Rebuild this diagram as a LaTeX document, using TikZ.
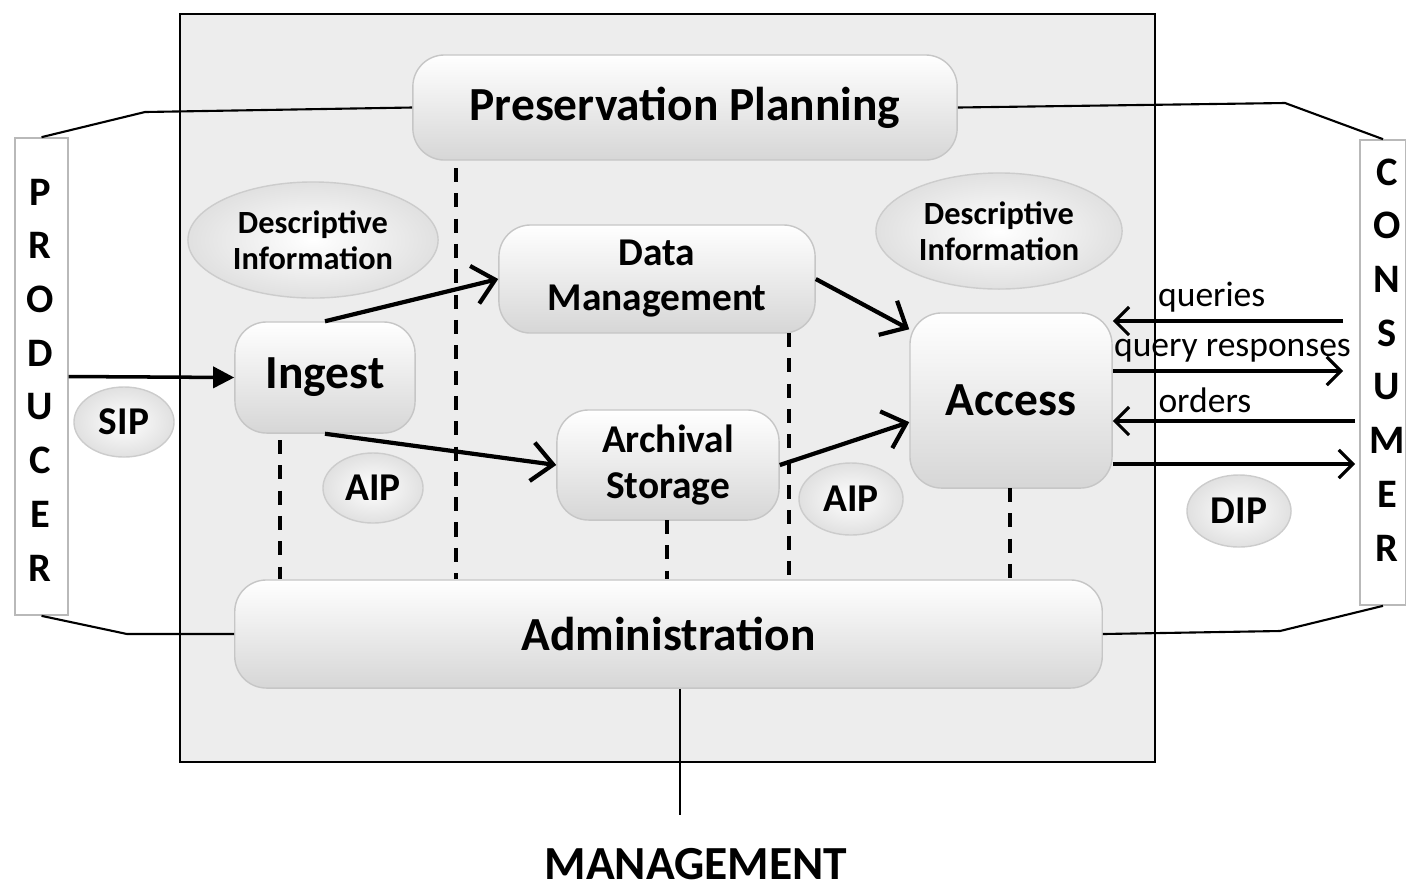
\documentclass[tikz,border=0pt]{standalone}
\usepackage{fontspec}
\setmainfont{Carlito}
\usetikzlibrary{arrows.meta,shapes.geometric}

\tikzset{
	funcbox/.style={rounded corners=9pt,draw=gray!45,top color=white,bottom color=gray!32,
		inner sep=0pt,align=center,font=\bfseries\fontsize{13.5}{16}\selectfont},
	infobubble/.style={ellipse,draw=gray!40,inner color=white,outer color=gray!24,
		inner sep=0pt,align=center,font=\bfseries\fontsize{11.2}{13}\selectfont},
	sidebar/.style={draw=gray!55,fill=white,inner sep=0pt},
	letter/.style={font=\bfseries\fontsize{11.5}{13}\selectfont,inner sep=0pt},
	sepline/.style={line width=1.4pt,dash pattern=on 4pt off 3.2pt},
	flow/.style={draw=black,line width=1.2pt,-{Straight Barb[length=6pt,width=11pt,line width=1.2pt]}},
	msg/.style={line width=0.9pt,-{Straight Barb[length=4pt,width=8pt,line width=0.9pt]}},
	msglabel/.style={font=\fontsize{10.1}{12}\selectfont,inner sep=2pt}
}

\begin{document}
\begin{tikzpicture}[x=0.01cm,y=-0.01cm]
	\useasboundingbox (0,0) rectangle (1406,887);
	
	% archive frame and the two outside parties
	\node[draw=black,semithick,fill=gray!14,minimum width=9.75cm,minimum height=7.48cm,inner sep=0pt] (oais) at (667.5,388) {};
	\node[sidebar,minimum width=0.53cm,minimum height=4.77cm] (producer) at (41.5,376.5) {};
	\node[sidebar,minimum width=0.46cm,minimum height=4.65cm] (consumer) at (1383,372.5) {};
	\foreach \l [count=\i] in {P,R,O,D,U,C,E,R}
		\node[letter] (prod\i) at (40,{192+(\i-1)*53.7}) {\l};
	\foreach \l [count=\i] in {C,O,N,S,U,M,E,R}
		\node[letter] (cons\i) at (1387,{172+(\i-1)*53.7}) {\l};
	
	% functional entities
	\node[funcbox,minimum width=5.44cm,minimum height=1.05cm] (pp) at (685,107.5) {Preservation Planning};
	\node[funcbox,minimum width=3.16cm,minimum height=1.08cm,font=\bfseries\fontsize{11.2}{12.8}\selectfont] (dm) at (657,279) {Data\\Management};
	\node[funcbox,minimum width=1.8cm,minimum height=1.11cm] (ingest) at (325,377.5) {Ingest};
	\node[funcbox,minimum width=2.22cm,minimum height=1.1cm,font=\bfseries\fontsize{11.2}{13.3}\selectfont] (as) at (668,465) {Archival\\Storage};
	\node[funcbox,minimum width=2.02cm,minimum height=1.75cm] (access) at (1011,400.5) {Access};
	\node[funcbox,minimum width=8.67cm,minimum height=1.08cm] (admin) at (668.5,634) {Administration};
	
	% packages and information
	\node[infobubble,minimum width=2.5cm,minimum height=1.16cm,font=\bfseries\fontsize{9.2}{10.3}\selectfont] (di1) at (313,240) {Descriptive\\Information};
	\node[infobubble,minimum width=2.46cm,minimum height=1.16cm,font=\bfseries\fontsize{9.2}{10.3}\selectfont] (di2) at (999,231) {Descriptive\\Information};
	\node[infobubble,minimum width=1cm,minimum height=0.7cm] (sip) at (124,422) {SIP};
	\node[infobubble,minimum width=1cm,minimum height=0.7cm] (aip1) at (373,488) {AIP};
	\node[infobubble,minimum width=1.04cm,minimum height=0.72cm] (aip2) at (851,499) {AIP};
	\node[infobubble,minimum width=1.04cm,minimum height=0.72cm] (dip) at (1239,511) {DIP};
	
	% links to producer, consumer and management
	\coordinate (ppl) at (145,112);
	\coordinate (ppr) at (1285,103);
	\coordinate (adl) at (127,634);
	\coordinate (adr) at (1280,631);
	\coordinate (mgmt) at (680,815);
	\begin{scope}[semithick]
		\draw (pp.west) -- (ppl) -- (producer.north);
		\draw (pp.east) -- (ppr) -- (consumer.north);
		\draw (admin.west) -- (adl) -- (producer.south);
		\draw (admin.east) -- (adr) -- (consumer.south);
		\draw (admin.south -| mgmt) -- (mgmt);
	\end{scope}
	\node[font=\bfseries\fontsize{13.5}{16}\selectfont] (mgmtlabel) at (696,864) {MANAGEMENT};
	
	% boundaries
	\foreach \x/\y [count=\i] in {456/168,280/440,789/333,667/520,1010/488} {
		\coordinate (sep\i) at (\x,\y);
		\draw[sepline] (sep\i) -- (sep\i |- admin.north);
	}
	
	% data flow
	\draw[line width=1pt,-{Triangle[length=6pt,width=6pt]}] (producer.east) -- (ingest.west);
	\begin{scope}[every edge/.style={flow}]
		\path (ingest.north) edge (dm.west);
		\path (ingest.south) edge (as.west);
		\path (dm.east) edge (access.145);
		\path (as.east) edge (access.192);
	\end{scope}
	
	\coordinate (q1) at (1343,321);
	\coordinate (q2) at (1343,371);
	\coordinate (q3) at (1355,421);
	\coordinate (q4) at (1355,464);
	\draw[msg] (q1) -- node[msglabel,above,pos=0.57] (lq) {queries} (access.east |- q1);
	\draw[msg] (access.east |- q2) -- node[msglabel,above,pos=0.52] (lr) {query responses} (q2);
	\draw[msg] (q3) -- node[msglabel,above,pos=0.62] (lo) {orders} (access.east |- q3);
	\draw[msg] (access.east |- q4) -- (q4);
\end{tikzpicture}
\end{document}
